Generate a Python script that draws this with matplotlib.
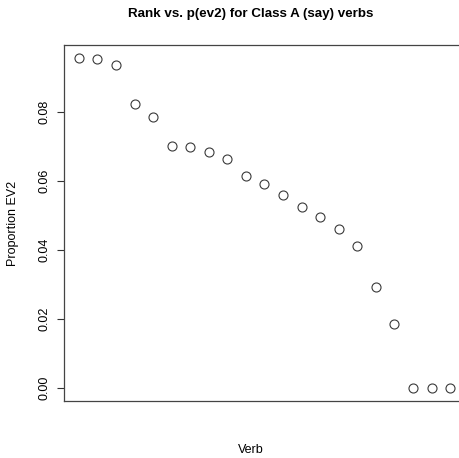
import matplotlib
matplotlib.use("Agg")
import matplotlib.pyplot as plt
import numpy as np

plt.rcParams['font.family'] = ['Liberation Sans', 'DejaVu Sans']

rank = np.arange(1, 22)
prop_ev2 = [0.0957, 0.0954, 0.0937, 0.0824, 0.0785, 0.0701, 0.0698, 0.0685,
            0.0665, 0.0614, 0.0593, 0.0561, 0.0525, 0.0497, 0.0461, 0.0412,
            0.0294, 0.0186, 0.0, 0.0, 0.0]
y_ticks = [0.00, 0.02, 0.04, 0.06, 0.08]

fig = plt.figure(figsize=(4.6, 4.58), dpi=100)
ax = fig.add_axes([64 / 460, 57 / 458, 401 / 460, 356 / 458])

ax.plot(rank, prop_ev2, 'o', mfc='none', mec='#3a3a3a', ms=6.5, mew=0.8)

# R style 4% padding
xr = rank.max() - rank.min()
ax.set_xlim(rank.min() - 0.04 * xr, rank.max() + 0.04 * xr)
yr = max(prop_ev2) - min(prop_ev2)
ax.set_ylim(min(prop_ev2) - 0.04 * yr, max(prop_ev2) + 0.04 * yr)

ax.set_xticks([])
ax.set_yticks(y_ticks)
ax.set_yticklabels(["%.2f" % t for t in y_ticks], rotation=90, va='center', fontsize=9)
ax.tick_params(axis='y', length=5, width=0.8, color='#333333', pad=5)
for s in ax.spines.values():
    s.set_color('#444444')
    s.set_linewidth(0.9)

fig.text(13 / 460, 1 - 223 / 458, "Proportion EV2", rotation=90,
         ha='center', va='center', fontsize=9)
fig.text(251 / 460, 1 - 450 / 458, "Verb", ha='center', va='center', fontsize=9)
fig.text(251 / 460, 1 - 14 / 458, "Rank vs. p(ev2) for Class A (say) verbs",
         ha='center', va='center', fontsize=9.6, fontweight='bold')

fig.savefig("out.png", dpi=100)
